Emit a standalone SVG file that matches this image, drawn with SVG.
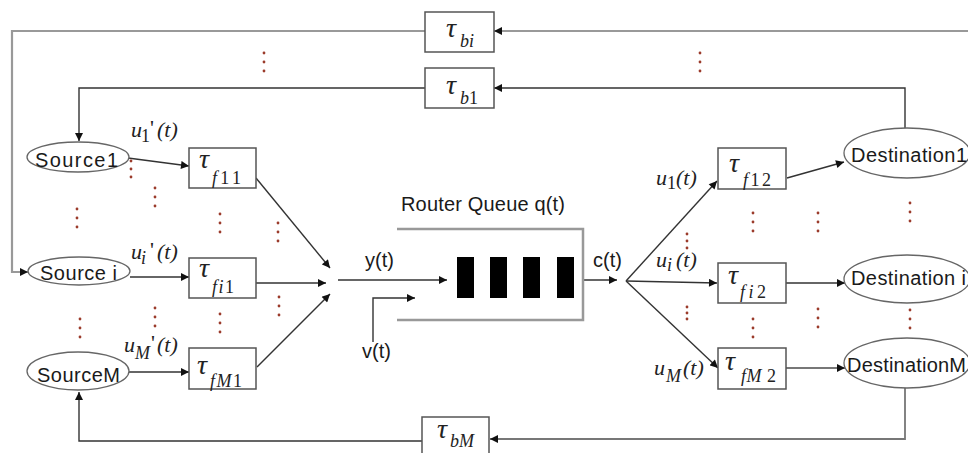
<svg xmlns="http://www.w3.org/2000/svg" width="968" height="453" viewBox="0 0 968 453">
<style>
.box{fill:#fff;stroke:#555;stroke-width:1.5}
.ell{fill:#fff;stroke:#666;stroke-width:1.3}
.lbl{font-family:"Liberation Sans",Arial,sans-serif;font-size:20px;fill:#1a1a1a}
.m{font-family:"Liberation Serif","Times New Roman",serif;font-style:italic;fill:#222}
.tau{font-size:28px}
.sub{font-size:18px}
.up{font-style:normal}
.ln{fill:none;stroke:#333;stroke-width:1.4}
.lg{fill:none;stroke:#999;stroke-width:2.2}
.lm{fill:none;stroke:#777;stroke-width:1.8}
.q{fill:none;stroke:#999;stroke-width:2.5}
.bar{fill:#000}
.dot{fill:#9b3b2b}
</style>
<defs>
<marker id="ah" viewBox="0 0 10 10" refX="10" refY="5" markerWidth="9" markerHeight="8" markerUnits="userSpaceOnUse" orient="auto">
<path d="M0,0 L10,5 L0,10 z" fill="#111"/>
</marker>
</defs>
<rect width="968" height="453" fill="#fff"/>

<g id="connectors">
<path class="lg" d="M968,31 L494,31" marker-end="url(#ah)"/>
<path class="lg" d="M425,31 L12,31 L12,272 L28,272" marker-end="url(#ah)"/>
<path class="ln" d="M905,128 L905,88 L494,88" marker-end="url(#ah)"/>
<path class="ln" d="M425,88 L79,88 L79,141" marker-end="url(#ah)"/>
<path class="ln" d="M128,158 L189,166" marker-end="url(#ah)"/>
<path class="ln" d="M130,277 L189,277" marker-end="url(#ah)"/>
<path class="ln" d="M129,372 L189,372" marker-end="url(#ah)"/>
<path class="ln" d="M256,178 L330,268" marker-end="url(#ah)"/>
<path class="ln" d="M256,283 L326,283" marker-end="url(#ah)"/>
<path class="ln" d="M257,367 L330,294" marker-end="url(#ah)"/>
<path class="ln" d="M338,280 L447,280" marker-end="url(#ah)"/>
<path class="ln" d="M373,342 L373,298 L415,298" marker-end="url(#ah)"/>
<path class="ln" d="M583,280 L617,280" marker-end="url(#ah)"/>
<path class="ln" d="M626,281 L717,181" marker-end="url(#ah)"/>
<path class="ln" d="M626,281 L717,283" marker-end="url(#ah)"/>
<path class="ln" d="M626,281 L718,368" marker-end="url(#ah)"/>
<path class="ln" d="M787,178 L844,162" marker-end="url(#ah)"/>
<path class="ln" d="M786,283 L845,283" marker-end="url(#ah)"/>
<path class="lm" d="M786,368 L845,368" marker-end="url(#ah)"/>
<path class="lm" d="M905,388 L905,439 L490,439" marker-end="url(#ah)"/>
<path class="ln" d="M422,441 L79,441 L79,392" marker-end="url(#ah)"/>
</g>

<g id="tau_bi"><rect class="box" x="425" y="12" width="69" height="40"/>
<text class="m tau" x="446" y="37">τ</text><text class="m sub" x="460" y="47">bi</text></g>
<g id="tau_b1"><rect class="box" x="425" y="68" width="69" height="40"/>
<text class="m tau" x="446" y="94">τ</text><text class="m sub" x="460" y="104">b<tspan class="up">1</tspan></text></g>

<g id="source1"><ellipse class="ell" cx="78" cy="157" rx="51" ry="15"/>
<text class="lbl" x="35" y="167" textLength="83">Source1</text></g>
<g id="sourcei"><ellipse class="ell" cx="79" cy="271" rx="51" ry="14"/>
<text class="lbl" x="40" y="280" textLength="77">Source i</text></g>
<g id="sourceM"><ellipse class="ell" cx="78" cy="371" rx="51" ry="19"/>
<text class="lbl" x="37" y="382" textLength="83">SourceM</text></g>

<g id="tau_f11"><rect class="box" x="189" y="148" width="67" height="40"/>
<text class="m tau" x="199" y="168">τ</text><text class="m sub" x="212" y="184" textLength="29">f<tspan class="up">11</tspan></text></g>
<g id="tau_fi1"><rect class="box" x="189" y="258" width="67" height="40"/>
<text class="m tau" x="199" y="277">τ</text><text class="m sub" x="212" y="293" textLength="22">fi<tspan class="up">1</tspan></text></g>
<g id="tau_fM1"><rect class="box" x="189" y="348" width="67" height="41"/>
<text class="m tau" x="197" y="374">τ</text><text class="m sub" x="210" y="387" textLength="32">fM<tspan class="up">1</tspan></text></g>

<g id="labels_u_in">
<text class="m" font-size="22" x="131" y="137">u<tspan class="sub up" font-size="14" x="141" y="142">1</tspan><tspan class="up" x="150" y="135">'</tspan><tspan x="157" y="137">(t)</tspan></text>
<text class="m" font-size="22" x="131" y="259">u<tspan class="sub" font-size="14" x="141" y="264">i</tspan><tspan class="up" x="150" y="257">'</tspan><tspan x="157" y="259">(t)</tspan></text>
<text class="m" font-size="22" x="124" y="352">u<tspan class="sub" font-size="14" x="135" y="359">M</tspan><tspan class="up" x="151" y="350">'</tspan><tspan x="157" y="352">(t)</tspan></text>
</g>

<g id="router_queue">
<text class="lbl" x="401" y="211" textLength="164">Router Queue q(t)</text>
<path class="q" d="M397,229 L583,229 L583,320 L397,320"/>
<rect class="bar" x="457" y="257" width="17" height="41"/>
<rect class="bar" x="490" y="257" width="17" height="41"/>
<rect class="bar" x="523" y="257" width="17" height="41"/>
<rect class="bar" x="557" y="257" width="17" height="41"/>
</g>
<g id="signals">
<text class="lbl" x="365" y="267">y(t)</text>
<text class="lbl" x="362" y="358">v(t)</text>
<text class="lbl" x="593" y="267">c(t)</text>
</g>

<g id="labels_u_out">
<text class="m" font-size="22" x="656" y="185">u<tspan class="sub up" font-size="14" x="667" y="189">1</tspan><tspan x="676" y="185">(t)</tspan></text>
<text class="m" font-size="22" x="656" y="267">u<tspan class="sub" font-size="14" x="667" y="271">i</tspan><tspan x="676" y="267">(t)</tspan></text>
<text class="m" font-size="22" x="654" y="375">u<tspan class="sub" font-size="14" x="666" y="382">M</tspan><tspan x="683" y="375">(t)</tspan></text>
</g>

<g id="tau_f12"><rect class="box" x="718" y="148" width="68" height="41"/>
<text class="m tau" x="729" y="172">τ</text><text class="m sub" x="743" y="186" textLength="28">f<tspan class="up">12</tspan></text></g>
<g id="tau_fi2"><rect class="box" x="718" y="263" width="68" height="40"/>
<text class="m tau" x="728" y="284">τ</text><text class="m sub" x="740" y="298" textLength="26">fi<tspan class="up">2</tspan></text></g>
<g id="tau_fM2"><rect class="box" x="718" y="348" width="68" height="41"/>
<text class="m tau" x="725" y="370">τ</text><text class="m sub" x="741" y="382" textLength="35">fM<tspan class="up"> 2</tspan></text></g>

<g id="destination1"><ellipse class="ell" cx="907" cy="153" rx="63" ry="25"/>
<text class="lbl" x="851" y="162" textLength="116">Destination1</text></g>
<g id="destinationi"><ellipse class="ell" cx="907" cy="279" rx="63" ry="24"/>
<text class="lbl" x="851" y="285" textLength="115">Destination i</text></g>
<g id="destinationM"><ellipse class="ell" cx="907" cy="363" rx="63" ry="25"/>
<text class="lbl" x="847" y="372" textLength="119">DestinationM</text></g>

<g id="tau_bM"><rect class="box" x="422" y="417" width="67" height="45"/>
<text class="m tau" x="437" y="438">τ</text><text class="m sub" x="450" y="447" font-size="16">bM</text></g>

<g id="ellipsis_dots">
<circle class="dot" cx="264" cy="53" r="1.4"/><circle class="dot" cx="264" cy="62" r="1.4"/><circle class="dot" cx="264" cy="71" r="1.4"/>
<circle class="dot" cx="700" cy="53" r="1.4"/><circle class="dot" cx="700" cy="62" r="1.4"/><circle class="dot" cx="700" cy="71" r="1.4"/>
<circle class="dot" cx="131" cy="161" r="1.4"/><circle class="dot" cx="131" cy="169" r="1.4"/><circle class="dot" cx="131" cy="177" r="1.4"/>
<circle class="dot" cx="155" cy="188" r="1.4"/><circle class="dot" cx="155" cy="197" r="1.4"/><circle class="dot" cx="155" cy="206" r="1.4"/>
<circle class="dot" cx="77" cy="209" r="1.4"/><circle class="dot" cx="77" cy="218" r="1.4"/><circle class="dot" cx="77" cy="227" r="1.4"/>
<circle class="dot" cx="220" cy="214" r="1.4"/><circle class="dot" cx="220" cy="223" r="1.4"/><circle class="dot" cx="220" cy="232" r="1.4"/>
<circle class="dot" cx="278" cy="223" r="1.4"/><circle class="dot" cx="278" cy="232" r="1.4"/><circle class="dot" cx="278" cy="241" r="1.4"/>
<circle class="dot" cx="155" cy="308" r="1.4"/><circle class="dot" cx="155" cy="317" r="1.4"/><circle class="dot" cx="155" cy="326" r="1.4"/>
<circle class="dot" cx="80" cy="319" r="1.4"/><circle class="dot" cx="80" cy="328" r="1.4"/><circle class="dot" cx="80" cy="337" r="1.4"/>
<circle class="dot" cx="220" cy="314" r="1.4"/><circle class="dot" cx="220" cy="323" r="1.4"/><circle class="dot" cx="220" cy="332" r="1.4"/>
<circle class="dot" cx="279" cy="297" r="1.4"/><circle class="dot" cx="279" cy="306" r="1.4"/><circle class="dot" cx="279" cy="315" r="1.4"/>
<circle class="dot" cx="687" cy="234" r="1.4"/><circle class="dot" cx="687" cy="241" r="1.4"/><circle class="dot" cx="687" cy="248" r="1.4"/>
<circle class="dot" cx="753" cy="213" r="1.4"/><circle class="dot" cx="753" cy="222" r="1.4"/><circle class="dot" cx="753" cy="231" r="1.4"/>
<circle class="dot" cx="818" cy="213" r="1.4"/><circle class="dot" cx="818" cy="222" r="1.4"/><circle class="dot" cx="818" cy="231" r="1.4"/>
<circle class="dot" cx="910" cy="203" r="1.4"/><circle class="dot" cx="910" cy="212" r="1.4"/><circle class="dot" cx="910" cy="221" r="1.4"/>
<circle class="dot" cx="687" cy="307" r="1.4"/><circle class="dot" cx="687" cy="313" r="1.4"/><circle class="dot" cx="687" cy="319" r="1.4"/>
<circle class="dot" cx="753" cy="319" r="1.4"/><circle class="dot" cx="753" cy="328" r="1.4"/><circle class="dot" cx="753" cy="337" r="1.4"/>
<circle class="dot" cx="818" cy="309" r="1.4"/><circle class="dot" cx="818" cy="318" r="1.4"/><circle class="dot" cx="818" cy="327" r="1.4"/>
<circle class="dot" cx="910" cy="310" r="1.4"/><circle class="dot" cx="910" cy="319" r="1.4"/><circle class="dot" cx="910" cy="328" r="1.4"/>
</g>
</svg>
